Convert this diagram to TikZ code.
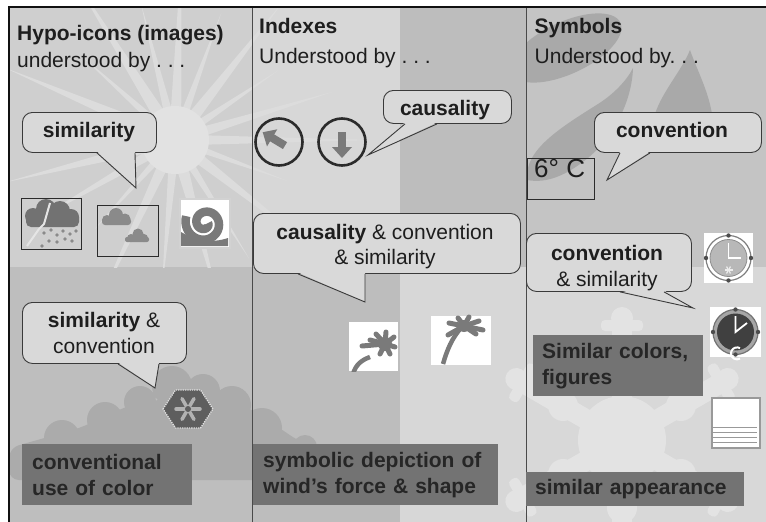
\documentclass[tikz,border=0pt]{standalone}
\usepackage{fontspec}
\setmainfont{Liberation Sans}
\usetikzlibrary{calc}
\frenchspacing

\definecolor{ink}{HTML}{1E1E1E}
\definecolor{labelink}{HTML}{262626}
\definecolor{coloneup}{HTML}{CFCFCF}
\definecolor{colonedown}{HTML}{BEBEBE}
\definecolor{sunray}{HTML}{DCDCDC}
\definecolor{suncore}{HTML}{E2E2E2}
\definecolor{cloudgray}{HTML}{ABABAB}
\definecolor{idxlight}{HTML}{D7D7D7}
\definecolor{idxdark}{HTML}{BDBDBD}
\definecolor{symup}{HTML}{C4C4C4}
\definecolor{symdown}{HTML}{D8D8D8}
\definecolor{leafgray}{HTML}{A9A9A9}
\definecolor{flakegray}{HTML}{E3E3E3}
\definecolor{balloonfill}{HTML}{D9D9D9}
\definecolor{balloonedge}{HTML}{3A3A3A}
\definecolor{labelfill}{HTML}{737373}
\definecolor{icongray}{HTML}{7A7A7A}
\definecolor{stormgray}{HTML}{727272}
\definecolor{hailgray}{HTML}{8A8A8A}
\definecolor{ringdark}{HTML}{2B2B2B}
\definecolor{framecol}{HTML}{111111}
\definecolor{dividercol}{HTML}{4A4A4A}

% tail of a speech balloon: node, left/right offsets of its base, tip
\newcommand\balloontail[4]{%
  \fill[balloonfill] ([xshift=#2pt,yshift=1.5pt]#1.south west) -- (#4) -- ([xshift=#3pt,yshift=1.5pt]#1.south west) -- cycle;
  \draw[balloonedge, line width=0.9pt] ([xshift=#2pt]#1.south west) -- (#4) -- ([xshift=#3pt]#1.south west);}

\begin{document}
\begin{tikzpicture}[x=1pt, y=-1pt,
  headtext/.style={anchor=base west, inner sep=0, text=ink, font=\fontsize{21}{25}\selectfont\bfseries},
  subtext/.style={anchor=base west, inner sep=0, text=ink, font=\fontsize{21}{25}\selectfont},
  bubble/.style={draw=balloonedge, line width=0.9pt, fill=balloonfill, rounded corners=10pt, anchor=north west, inner sep=0},
  bubbletext/.style={inner sep=0, text=ink, align=center, font=\fontsize{21}{25.5}\selectfont},
  tagbox/.style={fill=labelfill, anchor=north west, inner ysep=0, text=labelink, align=left, font=\fontsize{21}{26}\selectfont\bfseries},
  iconbox/.style={anchor=north west, inner sep=0},
  ringicon/.style={circle, draw=ringdark, line width=2.6pt, minimum size=47pt, inner sep=0},
  frond/.style={icongray, line width=5pt, line cap=round},
]
\useasboundingbox (0,0) rectangle (766,522);
\fill[white] (0,0) rectangle (766,522);

% ---------- column backgrounds ----------
\fill[coloneup]   (9,8)     rectangle (252,267);
\fill[colonedown] (9,267)   rectangle (252,522);
\fill[idxlight]   (252,8)   rectangle (400,267);
\fill[idxdark]    (400,8)   rectangle (526,267);
\fill[idxdark]    (252,267) rectangle (400,522);
\fill[idxlight]   (400,267) rectangle (526,522);
\fill[symup]      (526,8)   rectangle (766,267);
\fill[symdown]    (526,267) rectangle (766,522);

% sunburst
\begin{scope}
  \clip (9,8) rectangle (400,267);
  \foreach \a/\r/\w in {0/200/9,20/120/6,38/175/10,58/140/7,75/170/11,95/150/8,115/185/10,132/120/6,150/160/9,
                        166/175/11,186/150/8,203/185/12,222/125/7,238/190/12,256/140/8,272/185/10,290/135/7,
                        308/175/11,326/125/7,343/165/9}
    \fill[sunray] ($(175,140)+(\a-\w:30)$) -- ($(175,140)+(\a:\r)$) -- ($(175,140)+(\a+\w:30)$) -- cycle;
  \fill[suncore] (175,140) circle[radius=34pt];
\end{scope}

% cloud
\begin{scope}
  \clip (9,267) rectangle (400,522);
  \fill[cloudgray] (172,386) circle[radius=20pt] (203,391) circle[radius=17pt]
                   (232,405) circle[radius=19pt] (140,402) circle[radius=16pt]
                   (105,420) circle[radius=18pt] (62,438) circle[radius=18pt]
                   (262,428) circle[radius=20pt] (305,447) circle[radius=12pt];
  \fill[cloudgray, rounded corners=10pt] (9,480) -- (9,448) -- (80,428) -- (130,405)
      -- (170,398) -- (250,408) -- (300,442) -- (330,446) -- (330,480) -- cycle;
\end{scope}

% leaves in the symbols column
\begin{scope}
  \clip (526,8) rectangle (766,267);
  \fill[leafgray, rotate around={25:(566,48)}] (566,48) ellipse[x radius=60pt, y radius=26pt];
  \fill[leafgray] (527,180) .. controls (524,150) and (560,128) .. (598,104)
      .. controls (614,94) and (627,80) .. (633,68)
      .. controls (632,100) and (615,135) .. (588,158)
      .. controls (568,174) and (548,184) .. (527,180) -- cycle;
  \fill[leafgray] (690,50) .. controls (682,70) and (662,92) .. (655,114) -- (712,114)
      .. controls (708,90) and (697,70) .. (690,50) -- cycle;
\end{scope}

% snowflake
\begin{scope}
  \clip (400,267) rectangle (766,522);
  \begin{scope}[shift={(622,440)}]
    \fill[flakegray] (0,0) circle[radius=44pt];
    \foreach \a in {90,30,-30,-90,-150,150}{
      \begin{scope}[rotate=\a]
        \fill[flakegray] (0,-10) rectangle (122,10);
        \fill[flakegray] (122,0) circle[radius=11pt];
        \fill[flakegray, rounded corners=4pt] (109,-21) rectangle (120,21);
        \fill[flakegray] (68,0) circle[radius=15pt];
      \end{scope}}
  \end{scope}
\end{scope}

% ---------- frame and dividers ----------
\draw[dividercol, line width=1pt] (252,8) -- (252,522);
\draw[dividercol, line width=1pt] (526,8) -- (526,522);
\draw[framecol, line width=2.2pt] (8,7) -- (766,7);
\draw[framecol, line width=2.2pt] (9,6) -- (9,522);

% ---------- headings ----------
\node[headtext] (hypo) at (17,40) {Hypo-icons (images)};
\node[subtext] (hypoby) at (17,67) {understood by . . .};
\node[headtext] (index) at (259,33) {Indexes};
\node[subtext] (indexby) at (259,63) {Understood by . . .};
\node[headtext] (symb) at (534.5,33) {Symbols};
\node[subtext] (symbby) at (534.5,63) {Understood by. . .};

% ---------- icons: hypo-icons ----------
\node[iconbox, draw=ringdark, line width=0.9pt, minimum width=60pt, minimum height=51pt] (storm) at (21,198) {};
\fill[stormgray] (33,216) circle[radius=8pt] (46,209) circle[radius=10pt]
                 (60,211) circle[radius=10pt] (71,217) circle[radius=8pt];
\fill[stormgray, rounded corners=5pt] (26,212) rectangle (79,227);
\draw[white!80!gray, line width=2pt] (50,203) -- (44,224) -- (39,229) -- (27,246);
\foreach \p in {(44,233),(51,230),(57,235),(63,231),(70,234),(76,231),(49,241),(57,242),(65,239),(42,246),(72,241)}
  \fill[hailgray] \p circle[radius=1.9pt];

\node[iconbox, draw=ringdark, line width=0.9pt, minimum width=61pt, minimum height=51pt] (clouds) at (97,205) {};
\fill[hailgray] (107,220) circle[radius=5pt] (116,215) circle[radius=7pt] (125,219) circle[radius=5.5pt];
\fill[hailgray, rounded corners=3pt] (102,218) rectangle (131,225);
\fill[hailgray] (131,238) circle[radius=4pt] (138,234) circle[radius=5.5pt] (144,238) circle[radius=4pt];
\fill[hailgray, rounded corners=2pt] (125,237) rectangle (149,242);

\node[iconbox, draw=white!65!gray, fill=white, line width=1.5pt, minimum width=50pt, minimum height=49pt] (swirl) at (179,198) {};
\begin{scope}
  \clip (180,199) rectangle (228,246);
  \draw[icongray, line width=8.5pt] plot[domain=0:560, samples=100, smooth]
    ({205+(3+\x/33)*cos(\x)}, {223+(3+\x/33)*sin(\x)});
  \fill[icongray] (181,232) -- (181,246) -- (228,246) -- (228,238) .. controls (210,244) and (195,240) .. (181,232) -- cycle;
\end{scope}

% snow crystal
\fill[black!63, draw=white!88!black, densely dotted, line width=1.3pt]
  (163,409) -- (175.5,390) -- (200.5,390) -- (213,409) -- (200.5,428) -- (175.5,428) -- cycle;
\foreach \a in {0,60,120}
  \draw[black!30, line width=3.5pt, line cap=round] ($(188,409)+(\a:12)$) -- ($(188,409)+(\a+180:12)$);
\fill[black!63] (188,409) circle[radius=3pt];

% ---------- icons: indexes ----------
\node[ringicon] (arrowA) at (279,142) {};
\node[ringicon] (arrowB) at (342,142) {};
\begin{scope}[shift={(arrowA.center)}, rotate=239, shift={(0,3)}]
  \fill[icongray] (-4,-10) rectangle (4,6);
  \fill[icongray] (-10,5) -- (10,5) -- (0,16) -- cycle;
\end{scope}
\begin{scope}[shift={(arrowB.center)}]
  \fill[icongray] (-4,-10) rectangle (4,6);
  \fill[icongray] (-10,5) -- (10,5) -- (0,16) -- cycle;
\end{scope}

\node[iconbox, fill=white, minimum width=49pt, minimum height=49pt] (palmA) at (349,322) {};
\begin{scope}
  \clip (349,322) rectangle (398,371);
  \draw[icongray, line width=4.5pt] (353,374) .. controls (356,364) and (362,360) .. (370,357);
  \fill[icongray] (385,344) circle[radius=7pt];
  \foreach \e in {(362,346),(370,340),(376,334),(386,332),(394,337),(395,347),(390,354),(380,354)}
    \draw[frond] (385,344) -- \e;
\end{scope}

\node[iconbox, fill=white, minimum width=60pt, minimum height=49pt] (palmB) at (431,316) {};
\draw[icongray, line width=4.5pt] (443,364) .. controls (447,350) and (452,338) .. (461,328);
\fill[icongray] (464,326) circle[radius=6pt];
\foreach \e in {(448,335),(449,323),(458,318),(469,317),(479,321),(483,330),(476,334)}
  \draw[frond] (464,326) -- \e;

% ---------- icons: symbols ----------
\node[iconbox, draw=ringdark, line width=0.8pt, minimum width=67pt, minimum height=41pt] (tempbox) at (527,158) {};
\node[anchor=base west, inner sep=0, text=ink, font=\fontsize{26}{30}\selectfont] (temp) at (534,177) {6° C};

\node[iconbox, fill=white, minimum width=49pt, minimum height=50pt] (clockA) at (704,233) {};
\fill[white] (728.5,258) circle[radius=22.5pt];
\draw[black!50, line width=1.2pt] (728.5,258) circle[radius=22.5pt];
\fill[black!28, draw=black!45, line width=0.8pt] (728.5,258) circle[radius=18.5pt];
\draw[white, line width=1.8pt] (728.5,243) -- (728.5,258) -- (741,258);
\foreach \a in {0,60,120}
  \draw[white!85!gray, line width=1.2pt] ($(728.5,270)+(\a:4)$) -- ($(728.5,270)+(\a+180:4)$);
\foreach \p in {(728.5,235.5),(751,258),(728.5,280.5),(706,258)}
  \fill[black!70] \p circle[radius=2.2pt];

\node[iconbox, fill=white, minimum width=51pt, minimum height=50pt] (clockB) at (710,307) {};
\fill[black!35, draw=black!55, line width=1.2pt] (735.5,332) circle[radius=22.5pt];
\fill[black!75] (735.5,332) circle[radius=18.5pt];
\draw[white, line width=1.8pt] (735.5,316) -- (735.5,332) -- (747,323);
\draw[white, line width=2pt] ($(737,343)+(60:6)$) arc[start angle=60, end angle=300, radius=6pt];
\foreach \p in {(735.5,309.5),(758,332),(735.5,354.5),(713,332)}
  \fill[black!70] \p circle[radius=2.2pt];

\node[iconbox, fill=white, draw=black!40, line width=1.5pt, minimum width=48pt, minimum height=50pt] (doc) at (711,397) {};
\foreach \y in {427,432,437,442}
  \draw[black!40, line width=1pt] (713,\y) -- (757,\y);

% ---------- speech balloons ----------
\coordinate (tipA) at (136,188);
\coordinate (tipB) at (155,388);
\coordinate (tipC) at (368,155);
\coordinate (tipD) at (365,302);
\coordinate (tipE) at (607,180);
\coordinate (tipF) at (693,308);

\node[bubble, minimum width=134pt, minimum height=40pt] (simA) at (22,112) {};
\balloontail{simA}{75}{113}{tipA}
\node[bubbletext, anchor=base, font=\fontsize{21}{25.5}\selectfont\bfseries] (simAtext) at (89,137) {similarity};

\node[bubble, minimum width=164pt, minimum height=61pt] (simB) at (22,302) {};
\balloontail{simB}{96}{137}{tipB}
\node[bubbletext] (simBtext) at (104,333) {{\bfseries similarity} \&\\convention};

\node[bubble, minimum width=128pt, minimum height=33pt] (causA) at (383,90) {};
\balloontail{causA}{22}{54}{tipC}
\node[bubbletext, anchor=base, font=\fontsize{21}{25.5}\selectfont\bfseries] (causAtext) at (445,115) {causality};

\node[bubble, minimum width=267pt, minimum height=60pt] (causB) at (253,213) {};
\balloontail{causB}{45}{112}{tipD}
\node[bubbletext] (causBtext) at (385,246.5) {{\bfseries causality} \& convention\\\& similarity};

\node[bubble, minimum width=167pt, minimum height=40pt] (convA) at (594,112) {};
\balloontail{convA}{26}{56}{tipE}
\node[bubbletext, anchor=base, font=\fontsize{21}{25.5}\selectfont\bfseries] (convAtext) at (672,137) {convention};

\node[bubble, minimum width=165pt, minimum height=58pt] (convB) at (526,233) {};
\balloontail{convB}{94}{138}{tipF}
\node[bubbletext] (convBtext) at (607,268) {{\bfseries convention}\\\& similarity};

% ---------- caption boxes ----------
\node[tagbox, minimum height=61pt, text width=150pt, inner xsep=10pt] (tagcolor) at (22,444) {conventional\\use of color};
\node[tagbox, minimum height=61pt, text width=225pt, inner xsep=10pt] (tagwind) at (253,444) {symbolic depiction of\\wind’s force \& shape};
\node[tagbox, minimum height=61pt, text width=152pt, inner xsep=9pt] (tagfig) at (533,335) {Similar colors,\\figures};
\node[tagbox, minimum height=34pt, text width=200pt, inner xsep=9pt] (tagapp) at (526,472) {similar appearance};
\end{tikzpicture}
\end{document}
